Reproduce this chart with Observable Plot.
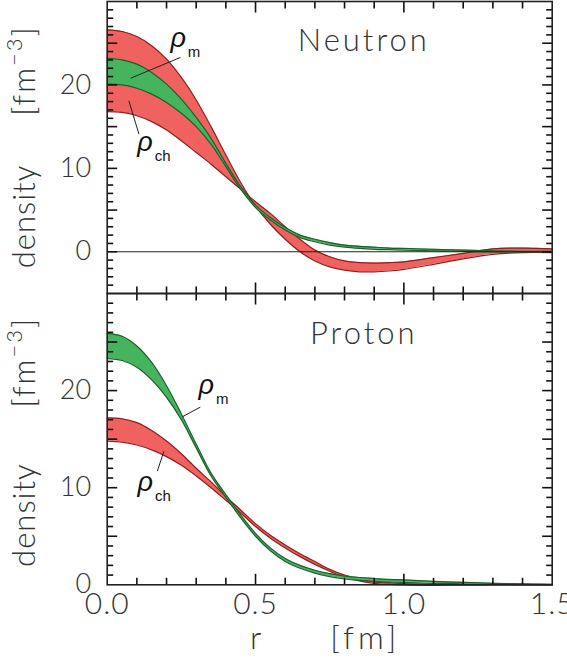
<!DOCTYPE html>
<html><head><meta charset="utf-8">
<script src="https://cdn.jsdelivr.net/npm/d3@7"></script>
<script src="https://cdn.jsdelivr.net/npm/@observablehq/plot@0.6"></script>
<style>
body{margin:0;background:#fff;}
#wrap{position:relative;width:567px;height:662px;overflow:hidden;}
#wrap svg{position:absolute;left:0;top:0;}
</style></head><body><div id="wrap"></div>
<script>
// radius grid [fm]
const r = [0,0.05,0.1,0.15,0.2,0.25,0.3,0.35,0.4,0.45,0.5,0.55,0.6,0.65,0.7,0.75,0.8,0.85,0.9,0.95,1.0,1.1,1.2,1.3,1.4,1.5];
// Neutron panel
const neutronChA = [26.6,26.4,25.8,24.7,23.1,20.9,18.2,15.0,11.6,8.3,5.5,3.3,1.5,0.0,-1.1,-1.8,-2.2,-2.4,-2.4,-2.3,-2.1,-1.5,-0.85,-0.3,-0.1,-0.1];
const neutronChB = [16.8,16.7,16.3,15.6,14.6,13.3,11.9,10.5,9.0,7.5,6.0,4.6,3.0,1.5,0.2,-0.6,-1.1,-1.3,-1.35,-1.3,-1.2,-0.7,-0.2,0.35,0.45,0.35];
const neutronMA = [23.2,23.0,22.5,21.5,20.1,18.3,16.1,13.6,10.6,7.8,5.6,4.1,2.9,2.0,1.5,1.1,0.8,0.65,0.55,0.45,0.4,0.3,0.2,0.1,0.05,0.05];
const neutronMB = [20.1,20.0,19.6,18.9,17.9,16.6,15.0,12.9,10.2,7.5,5.3,3.8,2.6,1.7,1.2,0.8,0.55,0.4,0.3,0.25,0.2,0.1,0.05,0.0,0.0,0.0];
// Proton panel
const protonMA = [25.9,25.6,24.6,22.9,20.5,17.6,14.5,11.5,9.3,7.2,5.3,3.8,2.7,2.0,1.5,1.15,0.9,0.75,0.65,0.55,0.5,0.35,0.25,0.15,0.1,0.05];
const protonMB = [23.3,23.1,22.4,21.1,19.3,17.0,14.1,11.2,9.0,6.9,5.0,3.5,2.4,1.7,1.2,0.85,0.6,0.45,0.35,0.3,0.25,0.15,0.1,0.05,0.02,0.0];
const protonChA = [17.2,17.1,16.7,15.9,14.8,13.5,12.0,10.6,9.1,7.7,6.3,5.1,4.1,3.2,2.4,1.6,1.0,0.6,0.3,0.2,0.12,0.06,0.03,0.02,0.01,0];
const protonChB = [14.8,14.7,14.4,13.9,13.2,12.3,11.2,10.0,8.7,7.4,6.0,4.8,3.8,2.9,2.1,1.4,0.8,0.4,0.15,0.05,0.0,-0.05,-0.03,-0.02,0,0];

// axes
const xTickLabels = [0, 0.5, 1.0, 1.5];
const xMinorTicks = [0.1,0.2,0.3,0.4,0.6,0.7,0.8,0.9,1.1,1.2,1.3,1.4];
const xMajorTicks = [0.5, 1.0];
const yTickLabels = [0, 10, 20];
const panelTitles = ["Neutron", "Proton"];
const xTitle = [{x: 0.5, t: "r"}, {x: 0.87, t: "[fm]"}];

// annotations (label anchor + leader line) in data units
const neutronLabels = [{x: 0.213, y: 24.5, t: "ρ|m"}, {x: 0.101, y: 12.1, t: "ρ|ch"}];
const neutronLeaders = [{x1: 0.247, y1: 23.3, x2: 0.079, y2: 20.8}, {x1: 0.107, y1: 14.1, x2: 0.073, y2: 18.1}];
const protonLabels = [{x: 0.308, y: 19.6, t: "ρ|m"}, {x: 0.102, y: 9.65, t: "ρ|ch"}];
const protonLeaders = [{x1: 0.314, y1: 18.3, x2: 0.253, y2: 17.3}, {x1: 0.191, y1: 13.75, x2: 0.169, y2: 11.7}];

const redFill = "#f0625f", redStroke = "#8c1f1f";
const greenFill = "#46b45f", greenStroke = "#1d5f2b";
const ink = "#222", txt = "#333";
const W = 567, H = 662, ML = 106.7, MR = 15.3;
const FONT = "Lato, 'Open Sans', 'Liberation Sans', sans-serif";

const rows = (a, b, c, d) => r.map((x, i) => ({r: x, a: a[i], b: b[i], c: c[i], d: d[i]}));

function panel({mt, mb, yDomain, data, order, labels, leaders, title, titleDy, zero, xLabels, lab}) {
  const ph = H - mt - mb, pw = W - ML - MR;
  const uY = (yDomain[1] - yDomain[0]) / ph, uX = 1.5 / pw;
  const [y0, yT] = yDomain;
  const yMinor = [], yMajor = [];
  for (let v = y0 + 1; v < yT; v++) (v % 5 === 0 ? yMajor : yMinor).push(v);
  const segs = [];
  for (const [vals, len] of [[xMinorTicks, 7], [xMajorTicks, 11]]) for (const v of vals) {
    segs.push({x1: v, x2: v, y1: y0, y2: y0 + len * uY});
    segs.push({x1: v, x2: v, y1: yT, y2: yT - len * uY});
  }
  for (const [vals, len] of [[yMinor, 6], [yMajor, 10]]) for (const v of vals) {
    segs.push({x1: 0, x2: len * uX, y1: v, y2: v});
    segs.push({x1: 1.5, x2: 1.5 - len * uX, y1: v, y2: v});
  }
  const curve = "catmull-rom";
  const bandMarks = [];
  for (const [y1, y2, fill, stroke] of order) {
    bandMarks.push(Plot.areaY(data, {x: "r", y1, y2, fill, curve}));
    bandMarks.push(Plot.line(data, {x: "r", y: y1, stroke, strokeWidth: 1.2, curve}));
    bandMarks.push(Plot.line(data, {x: "r", y: y2, stroke, strokeWidth: 1.2, curve}));
  }
  const marks = [
    ...bandMarks,
    zero ? Plot.ruleY([0], {stroke: ink, strokeWidth: 1.1}) : null,
    Plot.link(segs, {x1: "x1", y1: "y1", x2: "x2", y2: "y2", stroke: "#111", strokeWidth: 1.6}),
    Plot.frame({stroke: ink, strokeWidth: 1.6}),
    Plot.axisY({ticks: yTickLabels, tickSize: 0, tickPadding: 16, fontSize: 27, label: null, fill: txt}),
    Plot.text([title], {x: () => 0.865, text: d => d, frameAnchor: "top", dy: titleDy, lineAnchor: "bottom", textAnchor: "middle", fontSize: 31, fill: txt}),
    Plot.text([{t: "density"}], {text: "t", frameAnchor: "left", rotate: -90, dx: -72, dy: lab[0], lineAnchor: "bottom", textAnchor: "middle", fontSize: 31, fill: txt}),
    Plot.text([{t: "[fm|−3|]"}], {text: "t", frameAnchor: "left", rotate: -90, dx: -72, dy: lab[1], lineAnchor: "bottom", textAnchor: "middle", fontSize: 31, fill: txt}),
    Plot.link(leaders, {x1: "x1", y1: "y1", x2: "x2", y2: "y2", stroke: ink, strokeWidth: 1}),
    Plot.text(labels, {x: "x", y: "y", text: "t", textAnchor: "start", lineAnchor: "bottom", fontSize: 27, fill: "#111"})
  ];
  if (xLabels) {
    marks.push(Plot.axisX({ticks: xTickLabels, tickFormat: d => d.toFixed(1), tickSize: 0, tickPadding: 8, fontSize: 30, label: null, fill: txt}));
    marks.push(Plot.text(xTitle, {x: "x", text: "t", frameAnchor: "bottom", dy: 63.7, lineAnchor: "bottom", textAnchor: "middle", fontSize: 32, fill: txt}));
  }
  const svg = Plot.plot({
    width: W, height: H,
    marginLeft: ML, marginRight: MR, marginTop: mt, marginBottom: mb,
    x: {domain: [0, 1.5], axis: xLabels ? undefined : null},
    y: {domain: yDomain, axis: null},
    style: {background: "transparent", overflow: "visible", fontFamily: FONT, fontWeight: 300, color: txt},
    marks: marks.filter(Boolean)
  });
  d3.select(svg).selectAll("text").each(function() {
    const s = this.textContent;
    const el = d3.select(this);
    if (s === "Neutron" || s === "Proton") el.attr("letter-spacing", 3);
    if (s === "[fm]") el.attr("letter-spacing", 4);
    if (s === "density") el.attr("letter-spacing", 1);
    if (/^\d\.\d$/.test(s)) el.attr("letter-spacing", 1);
    if (!s.includes("|")) return;
    const parts = s.split("|");
    el.text(null);
    if (parts[0] === "ρ") {
      el.append("tspan").text("ρ").attr("font-style", "italic").attr("font-family", "'Liberation Sans', Arial, sans-serif").attr("font-weight", 400);
      el.append("tspan").text(parts[1]).attr("font-size", 15).attr("dx", 2).attr("dy", 10).attr("font-family", "'Liberation Sans', Arial, sans-serif").attr("font-weight", 400);
    } else {
      el.attr("letter-spacing", 2);
      el.append("tspan").text(parts[0]);
      el.append("tspan").text(parts[1]).attr("font-size", 22).attr("dy", -13);
      el.append("tspan").text(parts[2]).attr("dy", 13);
    }
  });
  return svg;
}

const wrap = document.getElementById("wrap");
wrap.appendChild(panel({
  mt: 1, mb: H - 293, yDomain: [-5, 30],
  data: rows(neutronChA, neutronChB, neutronMA, neutronMB),
  order: [["a", "b", redFill, redStroke], ["c", "d", greenFill, greenStroke]],
  labels: neutronLabels, leaders: neutronLeaders, title: panelTitles[0], titleDy: 49.7, zero: true, xLabels: false,
  lab: [69, -77]
}));
wrap.appendChild(panel({
  mt: 293, mb: H - 584.3, yDomain: [0, 30],
  data: rows(protonChA, protonChB, protonMA, protonMB),
  order: [["a", "b", redFill, redStroke], ["c", "d", greenFill, greenStroke]],
  labels: protonLabels, leaders: protonLeaders, title: panelTitles[1], titleDy: 50, zero: false, xLabels: true,
  lab: [76, -77]
}));
</script></body></html>
